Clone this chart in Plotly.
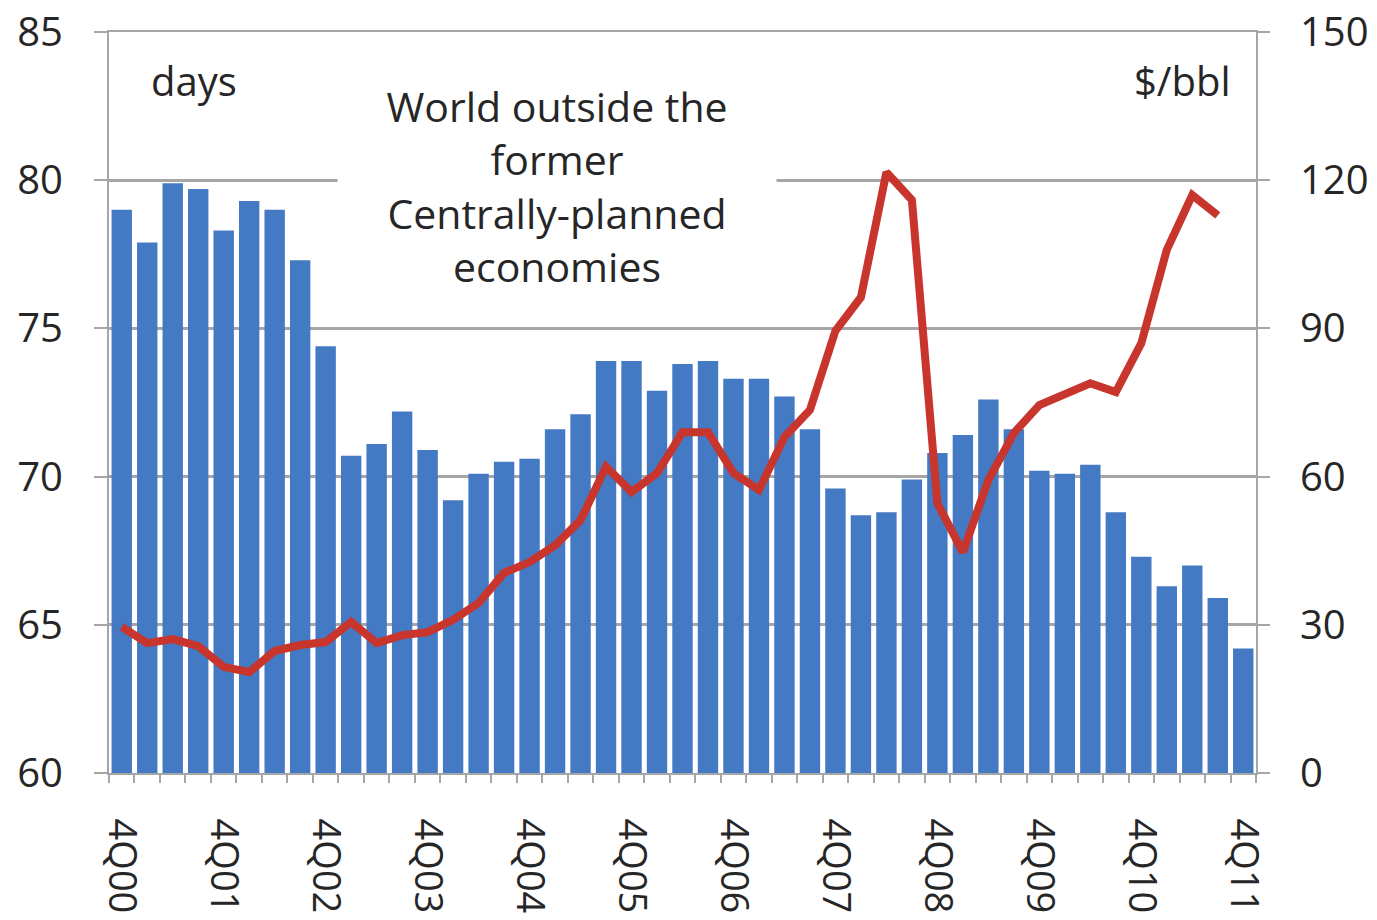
import plotly.graph_objects as go

# Quarterly labels, 4Q00 .. 4Q11
years = ["00", "01", "02", "03", "04", "05", "06", "07", "08", "09", "10", "11"]
quarters = ["4Q00"] + [f"{q}Q{y}" for y in years[1:] for q in (1, 2, 3, 4)]

# Days of forward demand cover (left axis)
days = [
    79.0, 77.9, 79.9, 79.7, 78.3, 79.3, 79.0, 77.3, 74.4,
    70.7, 71.1, 72.2, 70.9, 69.2, 70.1, 70.5, 70.6, 71.6,
    72.1, 73.9, 73.9, 72.9, 73.8, 73.9, 73.3, 73.3, 72.7,
    71.6, 69.6, 68.7, 68.8, 69.9, 70.8, 71.4, 72.6, 71.6,
    70.2, 70.1, 70.4, 68.8, 67.3, 66.3, 67.0, 65.9, 64.2,
]

# Crude oil price, $/bbl (right axis); no value yet for the last quarter
price = [
    29.6, 26.3, 27.1, 25.7, 21.5, 20.4, 24.7, 25.9, 26.5,
    30.6, 26.3, 27.9, 28.5, 31.0, 34.4, 40.5, 42.7, 46.1,
    51.2, 62.0, 56.9, 60.7, 69.0, 69.0, 60.7, 57.3, 68.0,
    73.5, 89.5, 96.3, 121.6, 116.0, 54.6, 44.7, 59.3, 68.8,
    74.5, 76.5, 78.9, 77.1, 87.0, 105.9, 117.0, 112.9, None,
]

idx = list(range(len(quarters)))
label_idx = idx[::4]
label_txt = [quarters[i] for i in label_idx]

FONT = "Open Sans"
TXT = "#262626"
GRID = "#a6a6a6"

fig = go.Figure()
fig.add_trace(go.Bar(
    x=idx, y=days, width=0.8,
    marker=dict(color="#4479c4", line=dict(width=0)),
    yaxis="y", showlegend=False,
))
fig.add_trace(go.Scatter(
    x=idx, y=price, mode="lines",
    line=dict(color="#c8352c", width=8),
    yaxis="y2", showlegend=False, connectgaps=False,
))

fig.update_layout(
    width=1377, height=920,
    margin=dict(l=109, r=121, t=32, b=147),
    paper_bgcolor="white", plot_bgcolor="white",
    font=dict(family=FONT, size=40, color=TXT),
    bargap=0.2,
    xaxis=dict(
        range=[-0.5, len(quarters) - 0.5],
        tickmode="array", tickvals=label_idx, ticktext=label_txt,
        tickangle=90, ticks="", ticklabelstandoff=36,
        showline=True, linecolor=GRID, linewidth=2, mirror=True,
        showgrid=False, zeroline=False, automargin=False,
        tickfont=dict(family=FONT, size=38, color=TXT),
        minor=dict(
            tickmode="array",
            tickvals=[i + 0.5 for i in range(-1, len(quarters))],
            ticks="outside", ticklen=8, tickcolor=GRID, tickwidth=2,
            showgrid=False,
        ),
    ),
    yaxis=dict(
        range=[60, 85], tickmode="linear", tick0=60, dtick=5,
        ticks="outside", ticklen=13, tickcolor=GRID, tickwidth=2,
        showline=True, linecolor=GRID, linewidth=2,
        showgrid=True, gridcolor=GRID, gridwidth=2.5,
        zeroline=False, automargin=False, ticklabelstandoff=23,
        tickfont=dict(family=FONT, size=40, color=TXT),
    ),
    yaxis2=dict(
        range=[0, 150], tickmode="linear", tick0=0, dtick=30,
        overlaying="y", side="right",
        ticks="outside", ticklen=12, tickcolor=GRID, tickwidth=2,
        showline=True, linecolor=GRID, linewidth=2,
        showgrid=False, zeroline=False, automargin=False,
        ticklabelstandoff=22,
        tickfont=dict(family=FONT, size=40, color=TXT),
    ),
    annotations=[
        dict(text="days", xref="paper", yref="paper", x=0.074, y=0.935,
             showarrow=False, xanchor="center", yanchor="middle",
             font=dict(family=FONT, size=40, color=TXT)),
        dict(text="$/bbl", xref="paper", yref="paper", x=0.936, y=0.935,
             showarrow=False, xanchor="center", yanchor="middle",
             font=dict(family=FONT, size=40, color=TXT)),
        dict(text="World outside the<br>former<br>Centrally-planned<br>economies",
             xref="paper", yref="paper", x=0.391, y=0.792,
             showarrow=False, xanchor="center", yanchor="middle",
             align="center", width=438, bgcolor="white", borderpad=0,
             font=dict(family=FONT, size=41, color=TXT)),
    ],
)

fig.write_html("out.html")
